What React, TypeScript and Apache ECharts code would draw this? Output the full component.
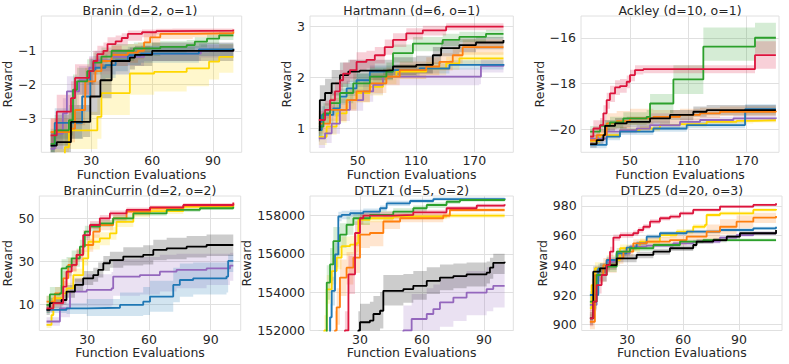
import React, { useEffect, useRef } from "react";
import * as echarts from "echarts";

type Row = [number, number, number, number]; // [evaluations, mean, lower, upper]

const C_RED = "#dc143c";
const C_ORANGE = "#ff7f0e";
const C_GREEN = "#2ca02c";
const C_BLACK = "#000000";
const C_BLUE = "#1f77b4";
const C_PURPLE = "#9467bd";
const C_YELLOW = "#ffd700";
const TXT = "#262626";
const GRIDC = "#e0e0e0";
const FONT = "DejaVu Sans";

// ---------- Branin (d=2, o=1) ----------
const B_red: Row[] = [[10,-3.5,-3.9,-3.0],[13,-2.8,-3.3,-2.3],[20,-2.4,-2.9,-1.9],[22,-1.8,-2.3,-1.4],[29,-1.6,-2.0,-1.2],[31,-1.3,-1.7,-1.0],[33,-1.1,-1.5,-0.85],[36,-1.0,-1.35,-0.75],[38,-0.8,-1.1,-0.6],[42,-0.72,-1.0,-0.55],[45,-0.62,-0.85,-0.48],[48,-0.5,-0.7,-0.4],[55,-0.45,-0.6,-0.37],[62,-0.42,-0.52,-0.35],[70,-0.4,-0.48,-0.34],[100,-0.37,-0.43,-0.32]];
const B_orange: Row[] = [[10,-3.4,-3.8,-3.0],[20,-3.3,-3.7,-2.9],[22,-2.75,-3.2,-2.3],[27,-1.9,-2.4,-1.5],[32,-1.6,-2.0,-1.2],[35,-1.3,-1.7,-1.0],[40,-1.12,-1.45,-0.85],[48,-1.05,-1.35,-0.8],[53,-1.0,-1.25,-0.75],[56,-0.75,-1.05,-0.5],[59,-0.6,-0.85,-0.45],[64,-0.5,-0.65,-0.38],[80,-0.48,-0.6,-0.38],[100,-0.42,-0.52,-0.34]];
const B_green: Row[] = [[10,-3.75,-4.1,-3.3],[12,-3.35,-3.8,-2.9],[19,-3.05,-3.5,-2.6],[21,-2.15,-2.6,-1.7],[23,-1.9,-2.3,-1.5],[28,-1.6,-2.0,-1.25],[31,-1.35,-1.7,-1.05],[35,-1.17,-1.5,-0.9],[40,-1.0,-1.3,-0.8],[51,-0.93,-1.15,-0.75],[64,-0.88,-1.08,-0.72],[77,-0.83,-1.0,-0.68],[81,-0.73,-0.9,-0.6],[87,-0.64,-0.8,-0.52],[93,-0.54,-0.68,-0.43],[100,-0.52,-0.65,-0.42]];
const B_black: Row[] = [[10,-3.8,-4.1,-3.4],[13,-3.7,-4.0,-3.3],[20,-3.1,-3.6,-2.6],[26,-3.1,-3.55,-2.6],[29.5,-2.35,-2.9,-1.9],[34.5,-1.87,-2.4,-1.4],[40,-1.3,-1.7,-0.95],[49,-1.2,-1.55,-0.9],[51.5,-1.12,-1.45,-0.85],[60,-1.0,-1.3,-0.75],[100,-0.95,-1.2,-0.72]];
const B_blue: Row[] = [[10,-3.8,-4.1,-3.4],[12,-3.13,-3.6,-2.7],[25.5,-2.35,-2.8,-1.9],[29.5,-1.6,-2.0,-1.25],[32,-1.5,-1.9,-1.15],[37,-1.42,-1.8,-1.1],[42,-1.28,-1.6,-1.0],[48,-1.13,-1.42,-0.88],[54.5,-1.08,-1.35,-0.85],[83,-0.96,-1.15,-0.78],[100,-0.93,-1.1,-0.76]];
const B_purple: Row[] = [[10,-3.9,-4.2,-3.5],[12,-3.45,-3.9,-3.0],[16,-2.85,-3.3,-2.4],[18,-2.2,-2.7,-1.75],[24,-1.87,-2.3,-1.45],[29,-1.5,-1.9,-1.15],[32,-1.28,-1.6,-1.0],[40,-1.18,-1.45,-0.95],[56,-1.08,-1.3,-0.88],[84,-1.0,-1.2,-0.82],[100,-0.95,-1.15,-0.78]];
const B_yellow: Row[] = [[10,-4.3,-4.6,-3.9],[17,-3.85,-4.3,-3.4],[19,-3.35,-3.9,-2.8],[33,-2.95,-3.6,-2.4],[35,-2.25,-2.9,-1.7],[49,-1.67,-2.3,-1.15],[61,-1.62,-2.2,-1.1],[77,-1.52,-2.05,-1.05],[88,-1.32,-1.85,-0.9],[93,-1.18,-1.65,-0.8],[100,-1.16,-1.6,-0.78]];

// ---------- Hartmann (d=6, o=1) ----------
const H_red: Row[] = [[10,1.17,1.0,1.35],[16.4,1.37,1.2,1.55],[21.5,1.56,1.38,1.75],[26.6,1.73,1.55,1.92],[31.7,1.95,1.75,2.15],[35,2.08,1.88,2.3],[42,2.15,1.97,2.35],[48.8,2.31,2.13,2.5],[59,2.35,2.18,2.53],[67.6,2.44,2.28,2.6],[77.8,2.6,2.45,2.75],[86.3,2.74,2.6,2.87],[100,2.87,2.75,2.97],[117,2.93,2.83,3.02],[141,3.0,2.93,3.07],[200,3.01,2.95,3.07]];
const H_black: Row[] = [[10,0.97,0.75,1.2],[11,1.56,1.25,1.85],[16.4,1.7,1.45,1.98],[23.2,1.89,1.65,2.15],[31.7,2.05,1.82,2.3],[40.3,2.12,1.92,2.35],[52.2,2.14,1.95,2.35],[79.5,2.15,1.97,2.35],[86.3,2.22,2.05,2.4],[110.2,2.25,2.08,2.43],[127.3,2.44,2.27,2.6],[135.8,2.58,2.42,2.72],[154.6,2.64,2.5,2.77],[171.7,2.69,2.56,2.8],[200,2.74,2.62,2.84]];
const H_green: Row[] = [[10,1.04,0.85,1.25],[14.7,1.3,1.1,1.5],[21.5,1.5,1.3,1.7],[31.7,1.7,1.5,1.9],[45.4,1.89,1.7,2.08],[62.5,2.02,1.85,2.2],[79.5,2.12,1.95,2.3],[86.3,2.48,2.3,2.65],[106.8,2.67,2.52,2.8],[137.5,2.74,2.62,2.86],[154.6,2.8,2.7,2.9],[182,2.86,2.77,2.94],[200,2.86,2.77,2.94]];
const H_orange: Row[] = [[10,1.1,0.9,1.3],[21.5,1.37,1.15,1.6],[38.6,1.56,1.35,1.78],[48.8,1.73,1.52,1.95],[62.5,1.89,1.7,2.08],[79.5,2.02,1.85,2.2],[93.2,2.15,1.98,2.32],[120.5,2.22,2.05,2.4],[134,2.31,2.14,2.48],[147.8,2.44,2.28,2.6],[158,2.6,2.45,2.75],[200,2.6,2.45,2.75]];
const H_yellow: Row[] = [[10,0.84,0.68,1.0],[18,1.04,0.88,1.2],[28.3,1.3,1.12,1.48],[38.6,1.56,1.38,1.74],[48.8,1.7,1.52,1.88],[62.5,1.82,1.65,2.0],[76,2.02,1.87,2.17],[89.8,2.12,1.98,2.26],[120.5,2.18,2.05,2.31],[141,2.28,2.15,2.41],[154.6,2.38,2.26,2.5],[200,2.38,2.26,2.5]];
const H_blue: Row[] = [[10,0.97,0.82,1.12],[13,1.27,1.1,1.44],[24.9,1.4,1.24,1.56],[31.7,1.63,1.47,1.79],[38.6,1.79,1.64,1.94],[48.8,1.95,1.82,2.08],[62.5,2.12,2.0,2.24],[86.3,2.15,2.04,2.26],[113.7,2.18,2.08,2.28],[144.4,2.25,2.16,2.34],[200,2.27,2.18,2.36]];
const H_purple: Row[] = [[10,0.81,0.62,1.0],[16.4,0.91,0.72,1.1],[23.2,1.1,0.9,1.3],[31.7,1.37,1.15,1.58],[42,1.56,1.35,1.77],[55.6,1.73,1.53,1.93],[65.9,1.86,1.67,2.05],[76,2.02,1.85,2.18],[175,2.02,1.87,2.17],[176.8,2.23,2.1,2.36],[200,2.25,2.12,2.38]];

// ---------- Ackley (d=10, o=1) ----------
const A_red: Row[] = [[9,-20.32,-20.6,-20.0],[12.3,-19.96,-20.3,-19.6],[19.2,-19.81,-20.15,-19.5],[22.6,-19.3,-19.65,-18.95],[26,-18.72,-19.1,-18.4],[29.4,-18.43,-18.8,-18.1],[34.6,-18.17,-18.5,-17.85],[39.7,-18.11,-18.4,-17.8],[46.6,-17.92,-18.2,-17.65],[50,-17.63,-17.9,-17.4],[55.1,-17.41,-17.6,-17.2],[63.7,-17.37,-17.55,-17.2],[178.5,-16.76,-17.35,-16.15],[200,-16.76,-17.35,-16.15]];
const A_green: Row[] = [[9,-20.1,-20.35,-19.85],[19.2,-19.84,-20.1,-19.6],[29.4,-19.7,-19.95,-19.45],[43.1,-19.52,-19.8,-19.25],[67.1,-19.45,-19.75,-19.15],[70.6,-18.87,-19.3,-18.45],[94.6,-17.82,-18.45,-17.2],[125.4,-16.39,-17.0,-15.55],[178.5,-16.0,-16.7,-15.35],[200,-16.0,-16.7,-15.35]];
const A_black: Row[] = [[9,-20.64,-20.8,-20.45],[15.7,-20.47,-20.65,-20.3],[22.6,-20.25,-20.45,-20.05],[24.3,-19.85,-20.1,-19.6],[34.6,-19.74,-19.97,-19.5],[46.6,-19.67,-19.9,-19.45],[70.6,-19.52,-19.75,-19.3],[91.1,-19.37,-19.6,-19.15],[115.1,-19.23,-19.45,-19.0],[128.8,-19.16,-19.38,-18.93],[200,-19.13,-19.35,-18.9]];
const A_orange: Row[] = [[9,-20.47,-20.7,-20.25],[15.7,-20.25,-20.5,-20.0],[26,-19.74,-20.0,-19.3],[36.3,-19.64,-19.95,-19.2],[50,-19.52,-19.8,-19.1],[74,-19.45,-19.7,-19.15],[101.4,-19.37,-19.6,-19.1],[122,-19.3,-19.5,-19.05],[142.5,-19.23,-19.42,-19.0],[200,-19.19,-19.38,-18.98]];
const A_purple: Row[] = [[9,-20.4,-20.55,-20.25],[26,-20.1,-20.25,-19.95],[39.7,-20.03,-20.18,-19.88],[56.9,-19.96,-20.1,-19.8],[70.6,-19.81,-19.95,-19.65],[101.4,-19.67,-19.8,-19.52],[122,-19.59,-19.72,-19.45],[156.3,-19.52,-19.65,-19.38],[200,-19.48,-19.6,-19.35]];
const A_blue: Row[] = [[9,-20.68,-20.82,-20.52],[26,-20.32,-20.47,-20.17],[39.7,-20.1,-20.25,-19.95],[74,-19.96,-20.1,-19.82],[108.3,-19.81,-19.95,-19.67],[168.3,-19.12,-19.3,-18.9],[200,-19.1,-19.28,-18.88]];
const A_yellow: Row[] = [[9,-20.5,-20.65,-20.35],[19.2,-20.25,-20.4,-20.1],[39.7,-20.03,-20.15,-19.9],[60.3,-19.96,-20.08,-19.84],[80.8,-19.81,-19.92,-19.7],[101.4,-19.77,-19.88,-19.66],[128.8,-19.67,-19.78,-19.56],[159.7,-19.63,-19.74,-19.52],[176.8,-19.6,-19.7,-19.5],[200,-19.6,-19.7,-19.5]];

// ---------- BraninCurrin (d=2, o=2) ----------
const C_red: Row[] = [[10.2,8.1,6.5,9.7],[13.5,10.5,9,12],[18.3,18.2,15.5,21],[19.9,25.2,22,28],[22.4,28.3,25.5,31],[24.8,33,30.5,35.5],[28,42.2,40,44.5],[31.3,46.9,45,48.8],[36.1,50,48.5,51.5],[41,52.3,51,53.6],[49.1,53.9,52.8,55],[60.5,55.1,54.2,56],[76.7,56.2,55.4,57],[101,57.4,56.7,58.1]];
const C_orange: Row[] = [[10.2,11.2,8.5,14],[14.3,15.1,12,18],[18.3,22.1,19,25.5],[20.7,28.3,25,31.5],[24.8,33,30,36],[28,37.6,34.5,40.5],[32.9,43.8,41,46.5],[36.1,46.9,44.5,49],[42.6,50,48,51.8],[49.1,53.1,51.6,54.5],[60.5,54.7,53.5,55.8],[76.7,55.9,55,56.8],[101,56.8,56,57.6]];
const C_yellow: Row[] = [[10.2,0.4,-1,2],[12.6,5,3,7],[13.5,12.8,10.5,15],[18.3,15.1,13,17.5],[19.9,17.4,15,20],[23.2,23.6,20.5,26.5],[28,31.4,28,35],[30.5,39.1,35.5,42.5],[36.1,40.7,37.5,43.5],[41,43,40,46],[44.2,48.4,46,50.5],[52.4,52.3,50.5,54],[60.5,53.4,52,54.8],[76.7,55.4,54.3,56.4],[101,56.8,56,57.6]];
const C_green: Row[] = [[10.2,9.7,6,14],[11.8,14.6,11,18],[16.7,15.1,11.5,19],[17.5,26.7,22,31],[19.9,27.5,23,32],[22.4,31.4,27.5,35],[26.4,36.8,33.5,40],[28.8,43.8,41,46.5],[31.3,46.1,44,48],[36.1,47.7,46,49.3],[42.6,50,48.6,51.4],[52.4,52.3,51.2,53.4],[68.6,53.9,53,54.8],[84.8,54.7,53.9,55.5],[101,55.4,54.7,56.1]];
const C_black: Row[] = [[10.2,7.4,5,10],[11.8,10.5,8,13],[17.5,12,9.5,14.5],[19.9,15.9,13,19],[24,19,16,22],[28,22.1,19,25.5],[32.9,23.6,20.5,27],[35.3,26,22.5,29.5],[37.8,29.1,25.5,32.5],[41,30.6,27,34.5],[47.5,32.2,28,36.5],[57.2,33,28.5,37.5],[62.1,35.3,30.5,40],[68.6,36,31,41],[78.3,36.8,31.8,41.8],[88,37.6,32.5,42.5],[101,37.6,32.5,42.5]];
const C_purple: Row[] = [[10.2,2,0,4],[16.7,8.1,4,12],[21.6,15.9,9,22],[29.7,16.7,9,24],[41.8,17.4,9.5,25],[42.6,22.9,14,31],[55.6,23.6,14.5,32],[65.3,25.2,16,33],[73.4,26,17.5,33.5],[88,26.7,19,33.5],[99.4,28,21,34],[101,28,21,34]];
const C_blue: Row[] = [[10.2,7.4,6,9],[19.9,8.1,5.5,10.5],[29.7,8.4,4.5,12.5],[45.9,9.7,4.5,15.5],[57.2,11.2,5,18],[60.5,13.6,6.5,21],[71.8,19,11,27],[75,21.3,13.5,29],[81.5,22.1,14.5,29.5],[97.7,22.9,15.5,30],[98.5,30.2,25,33],[101,30.2,25,33]];

// ---------- DTLZ1 (d=5, o=2) ----------
const D_blue: Row[] = [[10,150500,150000,151000],[15.5,152690,152000,153400],[16.3,154070,153300,154800],[17.9,155970,155300,156600],[19.5,157950,157700,158200],[21.1,158030,157800,158250],[25.2,158120,157920,158300],[31.6,158200,158020,158370],[39.7,158380,158230,158520],[42.9,158640,158500,158770],[54.2,158760,158650,158870],[65.5,158860,158770,158950],[100,158900,158820,158970]];
const D_green: Row[] = [[10,151000,150000,152000],[13.9,154500,153600,155400],[15.5,155450,154600,156300],[17.1,156660,155900,157400],[20.3,157000,156300,157600],[23.5,157520,157000,157950],[26.8,157860,157500,158150],[34.8,158030,157800,158250],[46.1,158200,158000,158380],[55.8,158380,158200,158530],[62.3,158550,158400,158680],[71.9,158720,158600,158830],[78.4,158810,158720,158900],[100,158860,158780,158940]];
const D_yellow: Row[] = [[10,150000,149000,151000],[12.7,152000,151200,152800],[13.9,154150,153400,154900],[16.3,155100,154400,155800],[18.7,155800,155200,156400],[21.1,156400,155900,156900],[25.2,156480,156000,156950],[28.4,156560,156100,157000],[29.2,157780,157500,158050],[34.8,157860,157650,158070],[46.1,157950,157800,158100],[71.9,158000,157880,158120],[100,158030,157930,158130]];
const D_orange: Row[] = [[10,149000,148000,150500],[17.9,152000,151000,153000],[18.7,153210,152300,154200],[20.3,154760,153800,155700],[23.5,155280,154400,156100],[26.8,155800,155000,156600],[30,157000,156300,157600],[34.8,157090,156400,157700],[41.3,157690,157300,158050],[49.4,157860,157650,158050],[70.3,158000,157850,158130],[73.5,158290,158180,158400],[100,158290,158200,158380]];
const D_red: Row[] = [[10,148000,147000,149500],[22.7,152000,151000,153000],[24.4,154930,153900,155900],[27.6,157090,156400,157700],[30,157860,157550,158150],[31.6,158000,157800,158200],[46.1,158030,157850,158200],[55.8,158170,158020,158300],[71.9,158380,158260,158500],[86.5,158520,158420,158620],[100,158590,158500,158680]];
const D_black: Row[] = [[10,149000,147500,150500],[29.2,152000,151000,153000],[30,152430,151500,153400],[34.8,152520,151600,153500],[36.5,152860,151900,153800],[39.7,153030,152100,154000],[41.3,154070,153300,154900],[51,154160,153450,154950],[55.8,154330,153600,155100],[62.3,154590,153900,155300],[68.7,154760,154100,155450],[75.2,154840,154200,155500],[81.6,154930,154300,155550],[91.3,155020,154450,155600],[92.9,155280,154700,155800],[94.5,155530,154950,156000],[100,155590,155050,156000]];
const D_purple: Row[] = [[10,148000,146500,149500],[51,152000,150800,153300],[55,152600,151300,153900],[62.3,152860,151600,154200],[65.5,153120,151900,154400],[68.7,153470,152200,154700],[75.2,153720,152500,154900],[81.6,153980,152800,155100],[91.3,154160,153000,155300],[94.5,154330,153200,155500],[100,154330,153200,155500]];

// ---------- DTLZ5 (d=20, o=3) ----------
const E_red: Row[] = [[9.9,904.3,899,910],[11.7,915.5,910,921],[13.5,926.7,921,932],[16.2,933.5,929,938],[18.9,940.2,936,944.5],[20.7,949.2,946,952.5],[22.5,958.7,956.5,960.8],[26.1,960.4,958.5,962.3],[33.2,961.6,959.8,963.4],[35.9,963.8,962,965.6],[38.6,966,964.3,967.7],[42.2,969.4,967.8,971],[47.5,971.7,970.2,973.2],[52.9,972.8,971.4,974.2],[58.3,975,973.7,976.3],[65.4,977.3,976.2,978.4],[79.8,979.6,978.7,980.5],[97.7,980.7,979.9,981.5],[109.9,981.8,981,982.6]];
const E_yellow: Row[] = [[9.9,911,906,916],[10.8,926.7,922,931],[12.6,938,934,942],[18.9,943.6,940,947],[26.1,951.5,949,954],[36.8,956,954,958],[47.5,960.4,958.6,962.2],[56.5,962.7,961,964.4],[65.4,966,964.4,967.6],[71.7,967.2,965.7,968.7],[72.6,973.9,972.5,975.3],[79.8,975,973.7,976.3],[97.7,977.3,976.2,978.4],[109.9,978,977,979]];
const E_orange: Row[] = [[9.9,902,897,907],[12.6,933.5,928,939],[17.1,940.2,935,945],[24.3,944.7,941,948.5],[27.9,949.2,946,952.5],[33.2,954.8,952,957.5],[40.4,956,953,959],[52.9,957,953.5,960.5],[61.9,959.3,955,963.5],[72.6,962.7,957.5,967.5],[79.8,966,961,971],[88.7,969.4,965,973.5],[97.7,972.1,968.5,975.5],[109.9,973.3,970.5,976]];
const E_blue: Row[] = [[9.9,920,917.5,922.5],[14.4,938,935,941],[18.9,943.6,941,946],[24.3,948,946,950],[29.6,951.9,950.2,953.6],[35,954.8,953.2,956.4],[40.4,959.3,957.8,960.8],[47.5,961.6,960.2,963],[61.9,962.7,961.4,964],[79.8,963.8,962.6,965],[97.7,964.9,963.8,966],[109.9,966,965,967]];
const E_green: Row[] = [[9.9,915.5,911,920],[13.5,933.5,929,938],[18.9,939.1,935.5,942.7],[24.3,949.2,946.8,951.6],[31.4,951.5,949.7,953.3],[44,953.7,952.3,955.1],[58.3,956,954.8,957.2],[70.8,957,955.9,958.1],[109.9,957,956,958]];
const E_purple: Row[] = [[9.9,913.3,909,917.5],[13.5,933.5,929.5,937.5],[18.9,942.5,939.5,945.5],[24.3,948,946,950],[31.4,952.6,951,954.2],[40.4,953.3,951.8,954.8],[54.7,954.8,953.4,956.2],[65.4,956,954.7,957.3],[79.8,958.7,957.5,959.9],[88.7,960.4,959.3,961.5],[97.7,961.6,960.6,962.6],[109.9,962.7,961.7,963.7]];
const E_black: Row[] = [[9.9,904.3,900,908.5],[11.7,935.7,932,939.4],[15.3,938,934.5,941.5],[18.9,940.2,937,943.4],[24.3,944.7,942,947.4],[35,947,944.8,949.2],[44,949.2,947.2,951.2],[52.9,951.5,949.7,953.3],[65.4,953.7,952,955.4],[67.2,956,954.5,957.5],[76.2,957,955.6,958.4],[83.4,959.3,958,960.6],[90.5,961.6,960.4,962.8],[109.9,963.8,962.7,964.9]];

const TITLES = ["Branin (d=2, o=1)", "Hartmann (d=6, o=1)", "Ackley (d=10, o=1)", "BraninCurrin (d=2, o=2)", "DTLZ1 (d=5, o=2)", "DTLZ5 (d=20, o=3)"];
const X_TICKS = [[30, 60, 90], [50, 110, 170], [50, 110, 170], [30, 60, 90], [30, 60, 90], [30, 60, 90]];
const Y_TICKS = [[-3, -2, -1], [1, 2, 3], [-20, -18, -16], [10, 30, 50], [152000, 154000, 156000, 158000], [900, 920, 940, 960, 980]];
const X_RANGE = [[5.4, 104.1], [0.9, 210.1], [-0.4, 203.2], [6.67, 104.6], [5.8, 104.2], [5.5, 113.1]];
const Y_RANGE = [[-4.0, 0.03], [0.537, 3.21], [-21.0, -15.05], [-2.2, 60.4], [152000, 159020], [896.1, 986.7]];

// draw order (bottom -> top): yellow, purple, blue, orange, green, black, red
const RUNS: [string, Row[]][][] = [
  [[C_YELLOW, B_yellow], [C_PURPLE, B_purple], [C_BLUE, B_blue], [C_ORANGE, B_orange], [C_GREEN, B_green], [C_BLACK, B_black], [C_RED, B_red]],
  [[C_YELLOW, H_yellow], [C_PURPLE, H_purple], [C_BLUE, H_blue], [C_ORANGE, H_orange], [C_GREEN, H_green], [C_BLACK, H_black], [C_RED, H_red]],
  [[C_YELLOW, A_yellow], [C_PURPLE, A_purple], [C_BLUE, A_blue], [C_ORANGE, A_orange], [C_GREEN, A_green], [C_BLACK, A_black], [C_RED, A_red]],
  [[C_YELLOW, C_yellow], [C_PURPLE, C_purple], [C_BLUE, C_blue], [C_ORANGE, C_orange], [C_GREEN, C_green], [C_BLACK, C_black], [C_RED, C_red]],
  [[C_YELLOW, D_yellow], [C_PURPLE, D_purple], [C_BLUE, D_blue], [C_ORANGE, D_orange], [C_GREEN, D_green], [C_BLACK, D_black], [C_RED, D_red]],
  [[C_YELLOW, E_yellow], [C_PURPLE, E_purple], [C_BLUE, E_blue], [C_ORANGE, E_orange], [C_GREEN, E_green], [C_BLACK, E_black], [C_RED, E_red]],
];

// layout (pixels)
const LAYOUT = [
  { left: 38.3, top: 16, width: 203.4, height: 136.3, yGap: 22, tx: 140, ty: 10 },
  { left: 310, top: 16, width: 203.3, height: 136.3, yGap: 10.5, tx: 411.7, ty: 10 },
  { left: 581, top: 16, width: 198, height: 136.3, yGap: 30.5, tx: 680, ty: 10 },
  { left: 39.3, top: 196, width: 201.4, height: 134.5, yGap: 20.5, tx: 140, ty: 190 },
  { left: 310, top: 196, width: 203.3, height: 134.5, yGap: 52, tx: 411.7, ty: 190 },
  { left: 581.7, top: 196, width: 200.3, height: 134.5, yGap: 27, tx: 681.8, ty: 190 },
];

const fmt = (v: number) => String(v).replace("-", "\u2212");

function bandSeries(rows: Row[], color: string, idx: number) {
  return {
    type: "custom",
    xAxisIndex: idx,
    yAxisIndex: idx,
    silent: true,
    z: 1,
    data: [[rows[0][0], rows[0][1]]],
    encode: { x: 0, y: 1 },
    renderItem: (params: any, api: any) => {
      const upper: number[][] = [];
      const lower: number[][] = [];
      for (let k = 0; k < rows.length; k++) {
        const r = rows[k];
        const xn = k < rows.length - 1 ? rows[k + 1][0] : r[0];
        upper.push(api.coord([r[0], r[3]]), api.coord([xn, r[3]]));
        lower.push(api.coord([r[0], r[2]]), api.coord([xn, r[2]]));
      }
      const pts = upper.concat(lower.reverse());
      const cs = params.coordSys;
      return {
        type: "polygon",
        shape: { points: pts },
        style: { fill: color, opacity: 0.2 },
        clipPath: { type: "rect", shape: { x: cs.x, y: cs.y, width: cs.width, height: cs.height } },
        silent: true,
      };
    },
  };
}

function lineSeries(rows: Row[], color: string, idx: number) {
  return {
    type: "line",
    xAxisIndex: idx,
    yAxisIndex: idx,
    data: rows.map((r) => [r[0], r[1]]),
    step: "end",
    symbol: "none",
    showSymbol: false,
    silent: true,
    clip: true,
    z: 2,
    lineStyle: { color, width: 1.8 },
    itemStyle: { color },
  };
}

function buildOption() {
  const grid = LAYOUT.map((l) => ({
    left: l.left, top: l.top, width: l.width, height: l.height,
    show: true, borderColor: GRIDC, borderWidth: 1, backgroundColor: "#ffffff",
  }));
  const xAxis = LAYOUT.map((l, i) => ({
    type: "value", gridIndex: i, min: X_RANGE[i][0], max: X_RANGE[i][1],
    axisLine: { show: false },
    axisTick: { show: false, customValues: X_TICKS[i] },
    axisLabel: { customValues: X_TICKS[i], margin: 2, fontSize: 12.5, color: TXT, fontFamily: FONT, formatter: fmt },
    splitLine: { show: true, lineStyle: { color: GRIDC, width: 1 } },
    name: "Function Evaluations", nameLocation: "middle", nameGap: 13,
    nameTextStyle: { fontSize: 12.5, color: TXT, fontFamily: FONT },
  }));
  const yAxis = LAYOUT.map((l, i) => ({
    type: "value", gridIndex: i, min: Y_RANGE[i][0], max: Y_RANGE[i][1],
    axisLine: { show: false },
    axisTick: { show: false, customValues: Y_TICKS[i] },
    axisLabel: { customValues: Y_TICKS[i], margin: 5, fontSize: 12.5, color: TXT, fontFamily: FONT, formatter: fmt },
    splitLine: { show: true, lineStyle: { color: GRIDC, width: 1 } },
    name: "Reward", nameLocation: "middle", nameGap: l.yGap,
    nameTextStyle: { fontSize: 12.5, color: TXT, fontFamily: FONT },
  }));
  const series: any[] = [];
  RUNS.forEach((panel, i) => {
    panel.forEach(([color, rows]) => series.push(bandSeries(rows, color, i)));
    panel.forEach(([color, rows]) => series.push(lineSeries(rows, color, i)));
  });
  const graphic = LAYOUT.map((l, i) => ({
    type: "text", x: l.tx, y: l.ty, silent: true,
    style: { text: TITLES[i], fontSize: 12.5, fontFamily: FONT, fill: TXT, align: "center", verticalAlign: "middle" },
  }));
  return { animation: false, backgroundColor: "#ffffff", grid, xAxis, yAxis, series, graphic };
}

export default function App() {
  const ref = useRef<HTMLDivElement>(null);
  useEffect(() => {
    if (!ref.current) return;
    const chart = echarts.init(ref.current, null, { renderer: "svg" });
    chart.setOption(buildOption() as any);
    return () => chart.dispose();
  }, []);
  return <div ref={ref} style={{ position: "fixed", left: 0, top: 0, width: 789, height: 364 }} />;
}
